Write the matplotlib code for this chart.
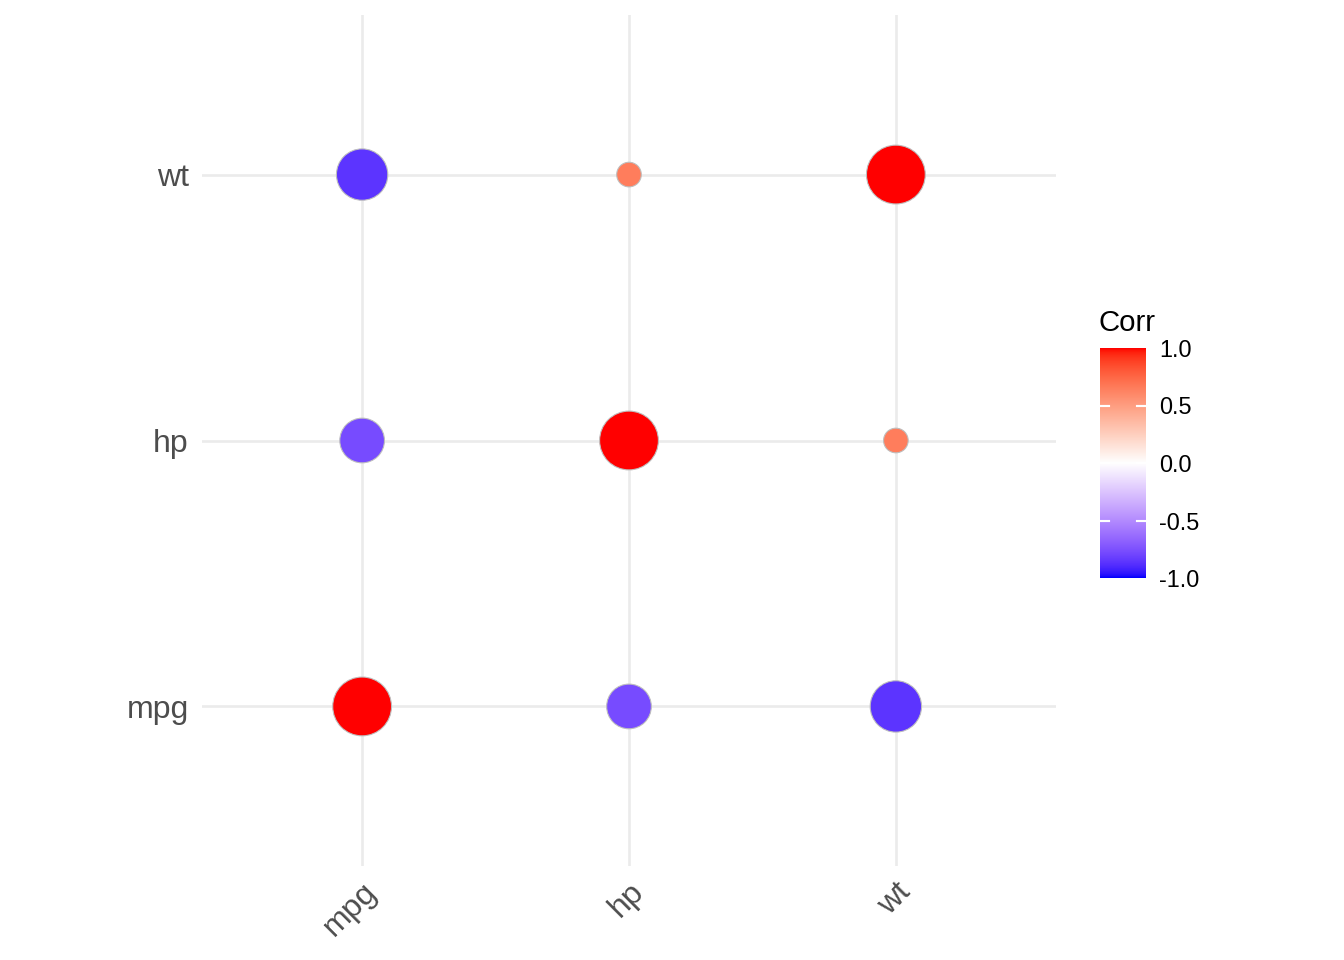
import numpy as np
import matplotlib
matplotlib.use("Agg")
import matplotlib.pyplot as plt
from matplotlib.colors import ListedColormap

plt.rcParams['font.family'] = ['Liberation Sans', 'DejaVu Sans']

variables = ["mpg", "hp", "wt"]
corr = np.array([
    [1.0000000, -0.7761684, -0.8676594],
    [-0.7761684, 1.0000000, 0.6587479],
    [-0.8676594, 0.6587479, 1.0000000],
])
legend_ticks = [-1.0, -0.5, 0.0, 0.5, 1.0]
legend_title = "Corr"

# ---- Lab-space diverging gradient (blue - white - red) ----
def srgb_to_lab(rgb):
    rgb = np.asarray(rgb, float)
    lin = np.where(rgb <= 0.04045, rgb / 12.92, ((rgb + 0.055) / 1.055) ** 2.4)
    M = np.array([[0.4124564, 0.3575761, 0.1804375],
                  [0.2126729, 0.7151522, 0.0721750],
                  [0.0193339, 0.1191920, 0.9503041]])
    xyz = lin @ M.T
    wp = np.array([0.95047, 1.0, 1.08883])
    t = xyz / wp
    d = 6 / 29
    f = np.where(t > d ** 3, np.cbrt(t), t / (3 * d * d) + 4 / 29)
    L = 116 * f[..., 1] - 16
    a = 500 * (f[..., 0] - f[..., 1])
    b = 200 * (f[..., 1] - f[..., 2])
    return np.stack([L, a, b], -1)

def lab_to_srgb(lab):
    lab = np.asarray(lab, float)
    fy = (lab[..., 0] + 16) / 116
    fx = fy + lab[..., 1] / 500
    fz = fy - lab[..., 2] / 200
    d = 6 / 29
    def finv(f):
        return np.where(f > d, f ** 3, 3 * d * d * (f - 4 / 29))
    wp = np.array([0.95047, 1.0, 1.08883])
    xyz = np.stack([finv(fx), finv(fy), finv(fz)], -1) * wp
    Minv = np.array([[3.2404542, -1.5371385, -0.4985314],
                     [-0.9692660, 1.8760108, 0.0415560],
                     [0.0556434, -0.2040259, 1.0572252]])
    lin = xyz @ Minv.T
    lin = np.clip(lin, 0, 1)
    rgb = np.where(lin <= 0.0031308, 12.92 * lin, 1.055 * lin ** (1 / 2.4) - 0.055)
    return np.clip(rgb, 0, 1)

lab_blue = srgb_to_lab([0, 0, 1])
lab_white = srgb_to_lab([1, 1, 1])
lab_red = srgb_to_lab([1, 0, 0])

def corr_color(v):
    v = np.asarray(v, float)
    t = np.abs(v)[..., None]
    end = np.where(v[..., None] < 0, lab_blue, lab_red)
    lab = lab_white * (1 - t) + end * t
    return lab_to_srgb(lab)

vals = np.linspace(-1, 1, 512)
cmap = ListedColormap(corr_color(vals))

# ---- figure ----
W, H = 1344, 960
fig = plt.figure(figsize=(7, 5), dpi=192)
ax = fig.add_axes([202 / W, (H - 866) / H, (1056 - 202) / W, (866 - 15) / H])

n = len(variables)
xs, ys, cs, ab = [], [], [], []
for i in range(n):
    for j in range(n):
        xs.append(i)
        ys.append(j)
        cs.append(corr[i, j])
        ab.append(abs(corr[i, j]))
xs = np.array(xs); ys = np.array(ys); cs = np.array(cs); ab = np.array(ab)

# ggplot scale_size(range = c(4, 10)) with area palette
size_mm = 4 + 6 * np.sqrt((ab - ab.min()) / (ab.max() - ab.min()))
diam_pt = 0.75 * (size_mm * 72.27 / 25.4 + 0.5 * 3.78 / 2)
s = diam_pt ** 2

for k in range(n):
    ax.axvline(k, color="#EBEBEB", lw=1.0, zorder=0)
    ax.axhline(k, color="#EBEBEB", lw=1.0, zorder=0)

ax.scatter(xs, ys, s=s, c=corr_color(cs), edgecolors="#BEBEBE", linewidths=0.4, zorder=3)

ax.set_xlim(-0.6, n - 1 + 0.6)
ax.set_ylim(-0.6, n - 1 + 0.6)
for sp in ax.spines.values():
    sp.set_visible(False)
ax.set_xticks(range(n))
ax.set_yticks(range(n))
ax.set_xticklabels(variables, rotation=45, ha="right", va="top", rotation_mode="anchor",
                   fontsize=12, color="#4D4D4D")
ax.set_yticklabels(variables, fontsize=12, color="#4D4D4D")
ax.tick_params(length=0, pad=5)
ax.tick_params(axis="x", pad=4)

# ---- colorbar legend ----
cax = fig.add_axes([1100 / W, (H - 578) / H, 46 / W, 230 / H])
grad = np.linspace(-1, 1, 300)[:, None]
cax.imshow(grad, aspect="auto", cmap=cmap, origin="lower", extent=[0, 1, -1, 1],
           vmin=-1, vmax=1)
cax.set_xlim(0, 1)
cax.set_ylim(-1, 1)
for t in legend_ticks:
    if abs(t) < 1:
        cax.plot([0, 0.2], [t, t], color="white", lw=0.8)
        cax.plot([0.8, 1], [t, t], color="white", lw=0.8)
cax.set_xticks([])
cax.set_yticks(legend_ticks)
cax.yaxis.tick_right()
cax.set_yticklabels([f"{t:.1f}" for t in legend_ticks], fontsize=8.8, color="black")
cax.tick_params(axis="y", length=0, pad=5)
for sp in cax.spines.values():
    sp.set_visible(False)
fig.text(1099 / W, (H - 331) / H, legend_title, fontsize=11, color="black", ha="left", va="baseline")

fig.savefig("out.png", dpi=192, facecolor="white")
